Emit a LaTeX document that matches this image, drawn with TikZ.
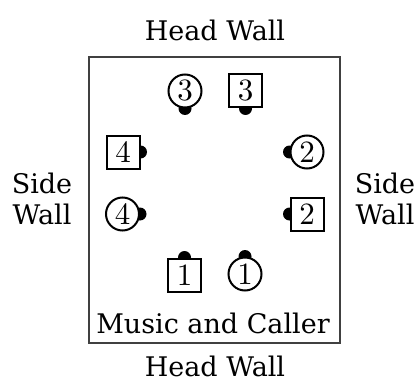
\documentclass[tikz,border=0pt]{standalone}
\usepackage{fontspec}
\newfontfamily\labelfont{DejaVu Serif}
\newcommand\dancerdigit[1]{\scalebox{3.1}{\fontsize{10}{10}\selectfont #1}}
\pgfdeclarelayer{bg}
\pgfsetlayers{bg,main}
\begin{document}
\begin{tikzpicture}[x=1pt,y=-1pt,
  lbl/.style={font=\labelfont\fontsize{27}{31}\selectfont, inner sep=0pt, align=center},
  dancer/.style={draw, line width=2pt, fill=white, inner sep=0pt},
  gent/.style={dancer, rectangle, minimum width=33pt, minimum height=33pt},
  lady/.style={dancer, circle, minimum size=33pt},
  wall/.style={draw=black!75, line width=1.1pt}
]
\useasboundingbox (0,0) rectangle (420,385);
\draw[wall] (89,57) rectangle (340,343);

\node[lbl] (headtop) at (215,30) {Head Wall};
\node[lbl] (headbot) at (215,366) {Head Wall};
\node[lbl] (sideL) at (42,199) {Side\\Wall};
\node[lbl] (sideR) at (385,199) {Side\\Wall};
\node[lbl] (music) at (213,323) {Music and Caller};

\node[lady] (L3) at (185,91) {\dancerdigit{3}};
\node[gent] (G3) at (245.5,91) {\dancerdigit{3}};
\node[gent] (G4) at (123,152) {\dancerdigit{4}};
\node[lady] (L2) at (307,152) {\dancerdigit{2}};
\node[lady] (L4) at (122.5,214) {\dancerdigit{4}};
\node[gent] (G2) at (307,214) {\dancerdigit{2}};
\node[gent] (G1) at (184.5,275) {\dancerdigit{1}};
\node[lady] (L1) at (245,274) {\dancerdigit{1}};

\begin{pgfonlayer}{bg}
\fill (L3.south) circle[radius=6.5];
\fill (G3.south) circle[radius=6.5];
\fill (G4.east) circle[radius=6.5];
\fill (L2.west) circle[radius=6.5];
\fill (L4.east) circle[radius=6.5];
\fill (G2.west) circle[radius=6.5];
\fill (G1.north) circle[radius=6.5];
\fill (L1.north) circle[radius=6.5];
\end{pgfonlayer}
\end{tikzpicture}
\end{document}
